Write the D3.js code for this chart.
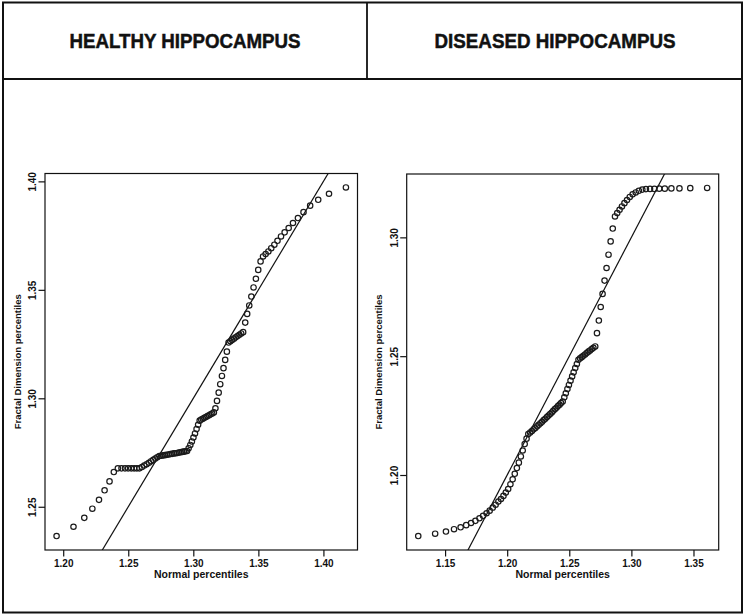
<!DOCTYPE html>
<html>
<head>
<meta charset="utf-8">
<script src="https://cdn.jsdelivr.net/npm/d3@7"></script>
<style>
  html, body { margin: 0; padding: 0; background: #fff; }
  svg { display: block; }
  text { font-family: "Liberation Sans", Arial, Helvetica, sans-serif; fill: #111; }
</style>
</head>
<body>
<svg id="chart" width="750" height="616"></svg>
<script>
// ---------------- DATA ----------------
const panelTitles = ["HEALTHY HIPPOCAMPUS", "DISEASED HIPPOCAMPUS"];
const xAxisTitle = "Normal percentiles";
const yAxisTitle = "Fractal Dimension percentiles";

// Healthy hippocampus: normal percentiles (x) vs fractal dimension percentiles (y)
const healthyX = [
  1.1949, 1.2079, 1.2162, 1.2224, 1.2275, 1.2318, 1.2356, 1.2389, 1.2420, 1.2448,
  1.2475, 1.2499, 1.2523, 1.2545, 1.2566, 1.2586, 1.2605, 1.2623, 1.2641, 1.2659,
  1.2676, 1.2692, 1.2708, 1.2723, 1.2739, 1.2754, 1.2768, 1.2782, 1.2796, 1.2810,
  1.2824, 1.2837, 1.2851, 1.2864, 1.2877, 1.2890, 1.2902, 1.2915, 1.2927, 1.2940,
  1.2952, 1.2964, 1.2977, 1.2989, 1.3001, 1.3013, 1.3025, 1.3037, 1.3049, 1.3061,
  1.3073, 1.3085, 1.3097, 1.3109, 1.3121, 1.3133, 1.3145, 1.3158, 1.3170, 1.3182,
  1.3195, 1.3207, 1.3220, 1.3232, 1.3245, 1.3258, 1.3271, 1.3285, 1.3298, 1.3312,
  1.3326, 1.3340, 1.3354, 1.3368, 1.3383, 1.3399, 1.3414, 1.3430, 1.3446, 1.3463,
  1.3481, 1.3499, 1.3517, 1.3536, 1.3556, 1.3577, 1.3599, 1.3623, 1.3647, 1.3674,
  1.3702, 1.3733, 1.3766, 1.3804, 1.3847, 1.3898, 1.3960, 1.4043, 1.4173
];
const healthyY = [
  1.2365, 1.2408, 1.2449, 1.2491, 1.2532, 1.2576, 1.2617, 1.2660, 1.2677, 1.2677,
  1.2677, 1.2677, 1.2677, 1.2677, 1.2677, 1.2677, 1.2683, 1.2690, 1.2696, 1.2703,
  1.2710, 1.2716, 1.2722, 1.2728, 1.2734, 1.2735, 1.2737, 1.2738, 1.2740, 1.2741,
  1.2743, 1.2744, 1.2746, 1.2747, 1.2748, 1.2750, 1.2751, 1.2753, 1.2754, 1.2756,
  1.2757, 1.2770, 1.2785, 1.2801, 1.2819, 1.2838, 1.2858, 1.2878, 1.2897, 1.2902,
  1.2906, 1.2910, 1.2914, 1.2918, 1.2922, 1.2926, 1.2930, 1.2935, 1.2954, 1.2988,
  1.3026, 1.3065, 1.3103, 1.3139, 1.3177, 1.3215, 1.3257, 1.3263, 1.3269, 1.3275,
  1.3281, 1.3287, 1.3293, 1.3299, 1.3305, 1.3349, 1.3389, 1.3428, 1.3469, 1.3511,
  1.3551, 1.3592, 1.3631, 1.3654, 1.3665, 1.3677, 1.3692, 1.3708, 1.3726, 1.3746,
  1.3765, 1.3785, 1.3808, 1.3831, 1.3858, 1.3888, 1.3915, 1.3943, 1.3972
];

// Diseased hippocampus
const diseasedX = [
  1.1284, 1.1420, 1.1507, 1.1572, 1.1625, 1.1670, 1.1709, 1.1744, 1.1777, 1.1806,
  1.1834, 1.1859, 1.1884, 1.1907, 1.1929, 1.1950, 1.1970, 1.1989, 1.2008, 1.2026,
  1.2044, 1.2061, 1.2078, 1.2094, 1.2110, 1.2125, 1.2141, 1.2156, 1.2170, 1.2185,
  1.2199, 1.2213, 1.2227, 1.2241, 1.2254, 1.2268, 1.2281, 1.2294, 1.2307, 1.2320,
  1.2333, 1.2346, 1.2359, 1.2371, 1.2384, 1.2397, 1.2409, 1.2422, 1.2434, 1.2447,
  1.2460, 1.2472, 1.2485, 1.2497, 1.2510, 1.2523, 1.2535, 1.2548, 1.2561, 1.2574,
  1.2587, 1.2600, 1.2613, 1.2627, 1.2640, 1.2654, 1.2667, 1.2681, 1.2694, 1.2709,
  1.2723, 1.2738, 1.2753, 1.2768, 1.2784, 1.2800, 1.2816, 1.2833, 1.2850, 1.2868,
  1.2886, 1.2905, 1.2924, 1.2944, 1.2965, 1.2987, 1.3010, 1.3035, 1.3060, 1.3088,
  1.3117, 1.3150, 1.3185, 1.3224, 1.3269, 1.3322, 1.3387, 1.3474, 1.3610
];
const diseasedY = [
  1.1743, 1.1753, 1.1762, 1.1772, 1.1780, 1.1789, 1.1798, 1.1807, 1.1818, 1.1828,
  1.1839, 1.1850, 1.1863, 1.1875, 1.1888, 1.1899, 1.1912, 1.1926, 1.1941, 1.1961,
  1.1982, 1.2005, 1.2029, 1.2052, 1.2078, 1.2103, 1.2130, 1.2153, 1.2172, 1.2179,
  1.2185, 1.2192, 1.2198, 1.2205, 1.2211, 1.2218, 1.2224, 1.2231, 1.2237, 1.2244,
  1.2250, 1.2257, 1.2263, 1.2270, 1.2277, 1.2283, 1.2290, 1.2296, 1.2303, 1.2309,
  1.2327, 1.2344, 1.2362, 1.2379, 1.2397, 1.2415, 1.2432, 1.2450, 1.2467, 1.2485,
  1.2491, 1.2496, 1.2502, 1.2507, 1.2513, 1.2519, 1.2524, 1.2530, 1.2535, 1.2541,
  1.2597, 1.2650, 1.2707, 1.2762, 1.2818, 1.2871, 1.2927, 1.2983, 1.3037, 1.3088,
  1.3102, 1.3116, 1.3130, 1.3144, 1.3157, 1.3170, 1.3181, 1.3189, 1.3196, 1.3201,
  1.3203, 1.3204, 1.3204, 1.3205, 1.3205, 1.3206, 1.3206, 1.3207, 1.3208
];

// reference line y = a + b*x
const refIntercept = 0;
const refSlope = 1;

const healthyXTicks = [1.20, 1.25, 1.30, 1.35, 1.40];
const healthyYTicks = [1.25, 1.30, 1.35, 1.40];
const diseasedXTicks = [1.15, 1.20, 1.25, 1.30, 1.35];
const diseasedYTicks = [1.20, 1.25, 1.30];

// ---------------- DRAW ----------------
const svg = d3.select("#chart");
svg.append("rect").attr("width", 750).attr("height", 616).attr("fill", "#fff");

// table frame
const frame = svg.append("g").attr("stroke", "#111").attr("fill", "none");
frame.append("rect").attr("x", 3).attr("y", 2.5).attr("width", 739).attr("height", 610).attr("stroke-width", 2);
frame.append("line").attr("x1", 3).attr("x2", 742).attr("y1", 79).attr("y2", 79).attr("stroke-width", 2);
frame.append("line").attr("x1", 367).attr("x2", 367).attr("y1", 2.5).attr("y2", 79).attr("stroke-width", 1.8);

const headerCenters = [185, 555];
const headerLengths = [231, 241];
panelTitles.forEach((t, i) => {
  svg.append("text")
    .attr("x", headerCenters[i] - headerLengths[i] / 2)
    .attr("y", 48)
    .attr("font-size", 21)
    .attr("font-weight", "bold")
    .attr("stroke", "#111").attr("stroke-width", 0.5)
    .attr("textLength", headerLengths[i])
    .attr("lengthAdjust", "spacingAndGlyphs")
    .text(t);
});

function padDomain(arr) {
  const [lo, hi] = d3.extent(arr);
  const p = (hi - lo) * 0.04;
  return [lo - p, hi + p];
}

function drawPanel(cfg) {
  const { xs, ys, xTicks, yTicks, box, id } = cfg;
  const x = d3.scaleLinear().domain(padDomain(xs)).range([box.x0, box.x1]);
  const y = d3.scaleLinear().domain(padDomain(ys)).range([box.y1, box.y0]);
  const g = svg.append("g");

  g.append("clipPath").attr("id", "clip" + id)
    .append("rect").attr("x", box.x0).attr("y", box.y0)
    .attr("width", box.x1 - box.x0).attr("height", box.y1 - box.y0);

  // plot box
  g.append("rect").attr("x", box.x0).attr("y", box.y0)
    .attr("width", box.x1 - box.x0).attr("height", box.y1 - box.y0)
    .attr("fill", "none").attr("stroke", "#111").attr("stroke-width", 1.2);

  // axes
  const xAxis = d3.axisBottom(x).tickValues(xTicks).tickSize(6.5).tickSizeOuter(0)
    .tickFormat(d3.format(".2f"));
  const gx = g.append("g").attr("transform", `translate(0,${box.y1})`).call(xAxis);
  gx.select(".domain").remove();
  gx.selectAll(".tick line").attr("stroke", "#111").attr("stroke-width", 1.2);
  gx.selectAll(".tick text").attr("y", 16.5).attr("dy", 0)
    .attr("font-size", 10).attr("font-weight", "bold")
    .attr("font-family", "Liberation Sans, Arial, sans-serif").attr("fill", "#111");

  const yAxis = d3.axisLeft(y).tickValues(yTicks).tickSize(6.5).tickSizeOuter(0)
    .tickFormat(d3.format(".2f"));
  const gy = g.append("g").attr("transform", `translate(${box.x0},0)`).call(yAxis);
  gy.select(".domain").remove();
  gy.selectAll(".tick line").attr("stroke", "#111").attr("stroke-width", 1.2);
  gy.selectAll(".tick text")
    .attr("x", null).attr("dy", null)
    .attr("transform", "translate(-9,0) rotate(-90)")
    .attr("text-anchor", "middle")
    .attr("font-size", 10).attr("font-weight", "bold")
    .attr("font-family", "Liberation Sans, Arial, sans-serif").attr("fill", "#111");

  // axis titles
  g.append("text")
    .attr("x", (box.x0 + box.x1) / 2).attr("y", box.y1 + 28)
    .attr("text-anchor", "middle").attr("font-size", 10.5).attr("font-weight", "bold")
    .text(xAxisTitle);
  g.append("text")
    .attr("transform", `translate(${box.x0 - 24.5},${(box.y0 + box.y1) / 2}) rotate(-90)`)
    .attr("text-anchor", "middle").attr("font-size", 9.5).attr("font-weight", "bold")
    .text(yAxisTitle);

  // reference line
  const [dx0, dx1] = x.domain();
  g.append("line")
    .attr("clip-path", `url(#clip${id})`)
    .attr("x1", x(dx0 - 0.1)).attr("y1", y(refIntercept + refSlope * (dx0 - 0.1)))
    .attr("x2", x(dx1 + 0.1)).attr("y2", y(refIntercept + refSlope * (dx1 + 0.1)))
    .attr("stroke", "#111").attr("stroke-width", 1.2);

  // points
  g.append("g").selectAll("circle")
    .data(xs.map((v, i) => [v, ys[i]]))
    .join("circle")
    .attr("cx", d => x(d[0])).attr("cy", d => y(d[1]))
    .attr("r", 2.7)
    .attr("fill", "none").attr("stroke", "#1a1a1a").attr("stroke-width", 1.2);
}

drawPanel({ id: "H", xs: healthyX, ys: healthyY, xTicks: healthyXTicks, yTicks: healthyYTicks,
  box: { x0: 45, x1: 357.5, y0: 173.5, y1: 550 } });
drawPanel({ id: "D", xs: diseasedX, ys: diseasedY, xTicks: diseasedXTicks, yTicks: diseasedYTicks,
  box: { x0: 406.7, x1: 718.7, y0: 174, y1: 550 } });
</script>
</body>
</html>
